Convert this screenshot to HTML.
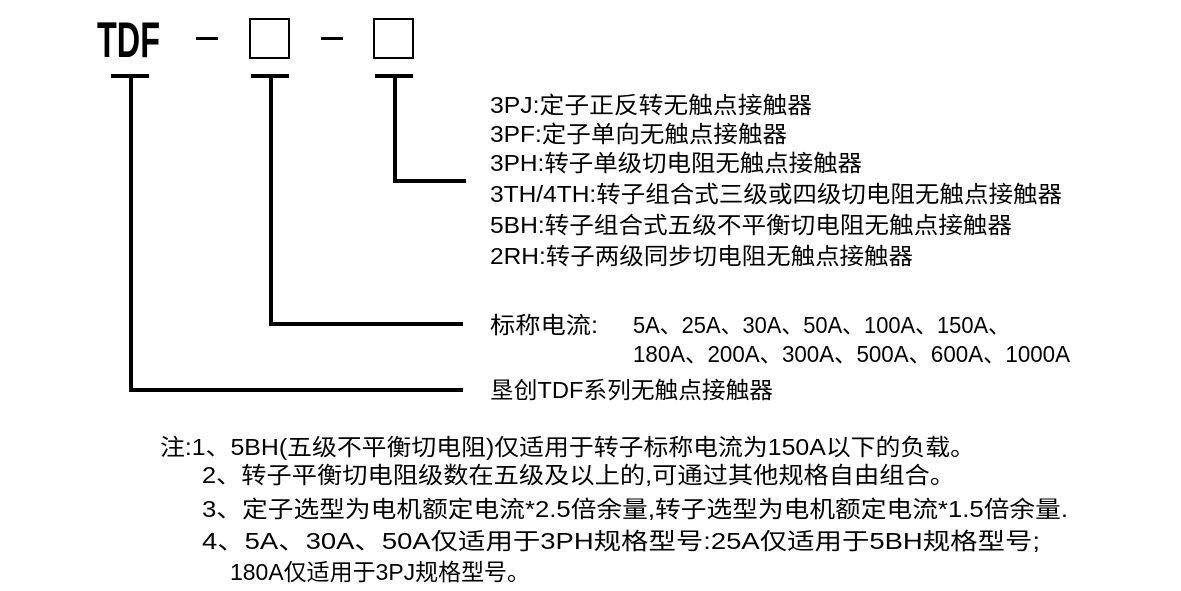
<!DOCTYPE html>
<html><head><meta charset="utf-8"><style>
html,body{margin:0;padding:0;background:#fff;width:1181px;height:591px;overflow:hidden}
text{font-family:"Liberation Sans","Noto Sans CJK SC",sans-serif;font-size:23px;fill:#000}
</style></head><body>
<svg width="1181" height="591" xmlns="http://www.w3.org/2000/svg">
<text x="97" y="57" style="font-size:50px;font-weight:bold" textLength="63" lengthAdjust="spacingAndGlyphs">TDF</text>
<g fill="#000" stroke="none">
<rect x="196" y="37" width="22" height="3"/>
<rect x="321" y="37" width="22" height="3"/>
</g>
<g fill="none" stroke="#000" stroke-width="2">
<rect x="250" y="19" width="39" height="39"/>
<rect x="374" y="19" width="39" height="39"/>
</g>
<g fill="none" stroke="#000" stroke-width="4">
<line x1="111" y1="76" x2="149" y2="76"/>
<line x1="131" y1="76" x2="131" y2="390"/>
<line x1="129" y1="390" x2="463" y2="390"/>
<line x1="251" y1="76" x2="289" y2="76"/>
<line x1="271" y1="76" x2="271" y2="324"/>
<line x1="269" y1="324" x2="463" y2="324"/>
<line x1="375" y1="76" x2="413" y2="76"/>
<line x1="395" y1="76" x2="395" y2="181"/>
<line x1="393" y1="181" x2="466" y2="181"/>
</g>
<g dominant-baseline="central">
<text x="490" y="105" textLength="322" lengthAdjust="spacingAndGlyphs">3PJ:定子正反转无触点接触器</text>
<text x="490" y="134" textLength="297" lengthAdjust="spacingAndGlyphs">3PF:定子单向无触点接触器</text>
<text x="490" y="163" textLength="372" lengthAdjust="spacingAndGlyphs">3PH:转子单级切电阻无触点接触器</text>
<text x="490" y="194" textLength="572" lengthAdjust="spacingAndGlyphs">3TH/4TH:转子组合式三级或四级切电阻无触点接触器</text>
<text x="490" y="225" textLength="522" lengthAdjust="spacingAndGlyphs">5BH:转子组合式五级不平衡切电阻无触点接触器</text>
<text x="490" y="256" textLength="423" lengthAdjust="spacingAndGlyphs">2RH:转子两级同步切电阻无触点接触器</text>
<text x="490" y="325" textLength="108" lengthAdjust="spacingAndGlyphs">标称电流:</text>
<text x="633" y="325" textLength="377" lengthAdjust="spacingAndGlyphs">5A、25A、30A、50A、100A、150A、</text>
<text x="633" y="354" textLength="437" lengthAdjust="spacingAndGlyphs">180A、200A、300A、500A、600A、1000A</text>
<text x="490" y="390" textLength="283" lengthAdjust="spacingAndGlyphs">垦创TDF系列无触点接触器</text>
<text x="160" y="447" textLength="815" lengthAdjust="spacingAndGlyphs">注:1、5BH(五级不平衡切电阻)仅适用于转子标称电流为150A以下的负载。</text>
<text x="202" y="475" textLength="753" lengthAdjust="spacingAndGlyphs">2、转子平衡切电阻级数在五级及以上的,可通过其他规格自由组合。</text>
<text x="202" y="509" textLength="866" lengthAdjust="spacingAndGlyphs">3、定子选型为电机额定电流*2.5倍余量,转子选型为电机额定电流*1.5倍余量.</text>
<text x="202" y="541" textLength="838" lengthAdjust="spacingAndGlyphs">4、5A、30A、50A仅适用于3PH规格型号:25A仅适用于5BH规格型号;</text>
<text x="230" y="572" textLength="300" lengthAdjust="spacingAndGlyphs">180A仅适用于3PJ规格型号。</text>
</g>
</svg>
</body></html>
